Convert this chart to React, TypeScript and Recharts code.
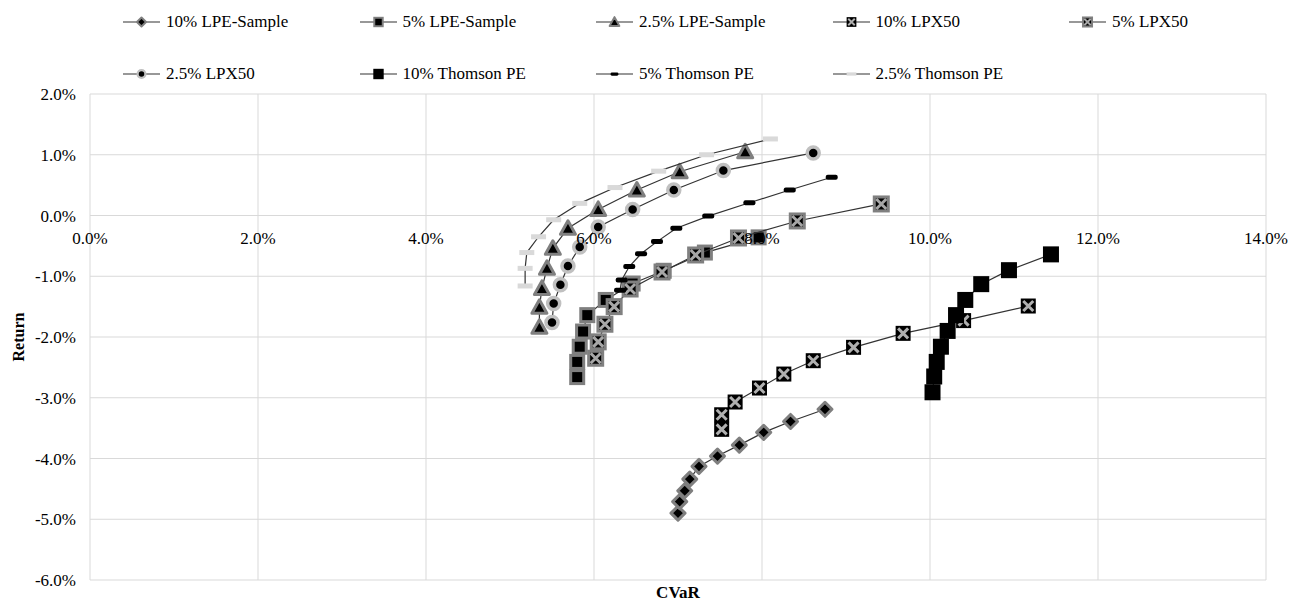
import React from 'react'
import { ScatterChart, Scatter, XAxis, YAxis, CartesianGrid } from 'recharts'

// CVaR (%) and return (%) per frontier
const cvar10Lpe = [7.0, 7.02, 7.08, 7.14, 7.25, 7.47, 7.73, 8.02, 8.34, 8.75]
const ret10Lpe = [-4.9, -4.71, -4.53, -4.34, -4.13, -3.96, -3.78, -3.57, -3.39, -3.19]

const cvar5Lpe = [5.8, 5.8, 5.83, 5.87, 5.92, 6.14, 6.46, 6.83, 7.32, 7.96]
const ret5Lpe = [-2.66, -2.41, -2.16, -1.91, -1.64, -1.39, -1.12, -0.91, -0.61, -0.36]

const cvar25Lpe = [5.35, 5.35, 5.38, 5.44, 5.51, 5.69, 6.05, 6.51, 7.02, 7.8]
const ret25Lpe = [-1.84, -1.51, -1.2, -0.87, -0.54, -0.21, 0.1, 0.42, 0.72, 1.05]

const cvar10Lpx = [7.52, 7.52, 7.68, 7.97, 8.26, 8.61, 9.09, 9.68, 10.4, 11.17]
const ret10Lpx = [-3.52, -3.28, -3.07, -2.84, -2.61, -2.39, -2.17, -1.94, -1.73, -1.49]

const cvar5Lpx = [6.02, 6.05, 6.13, 6.24, 6.43, 6.81, 7.21, 7.72, 8.42, 9.42]
const ret5Lpx = [-2.35, -2.08, -1.79, -1.5, -1.21, -0.93, -0.65, -0.37, -0.09, 0.19]

const cvar25Lpx = [5.5, 5.52, 5.6, 5.69, 5.83, 6.05, 6.46, 6.95, 7.54, 8.61]
const ret25Lpx = [-1.76, -1.45, -1.14, -0.83, -0.52, -0.19, 0.1, 0.42, 0.74, 1.03]

const cvar10Tpe = [10.03, 10.05, 10.08, 10.13, 10.21, 10.31, 10.42, 10.61, 10.94, 11.44]
const ret10Tpe = [-2.91, -2.65, -2.41, -2.16, -1.9, -1.64, -1.39, -1.13, -0.9, -0.64]

const cvar5Tpe = [6.31, 6.33, 6.42, 6.56, 6.75, 6.98, 7.36, 7.85, 8.33, 8.83]
const ret5Tpe = [-1.23, -1.06, -0.84, -0.63, -0.43, -0.21, -0.01, 0.21, 0.42, 0.63]

const cvar25Tpe = [5.18, 5.18, 5.2, 5.34, 5.52, 5.83, 6.25, 6.77, 7.34, 8.1]
const ret25Tpe = [-1.16, -0.87, -0.61, -0.35, -0.07, 0.2, 0.46, 0.73, 1.0, 1.26]

const xTicks = [0, 2, 4, 6, 8, 10, 12, 14]
const yTicks = [-6, -5, -4, -3, -2, -1, 0, 1, 2]

const zip = (xs: number[], ys: number[]) => xs.map((x, i) => ({ x, y: ys[i] }))

const series = [
  { name: '10% LPE-Sample', kind: 'diamond', data: zip(cvar10Lpe, ret10Lpe) },
  { name: '5% LPE-Sample', kind: 'square', data: zip(cvar5Lpe, ret5Lpe) },
  { name: '2.5% LPE-Sample', kind: 'triangle', data: zip(cvar25Lpe, ret25Lpe) },
  { name: '10% LPX50', kind: 'xBlack', data: zip(cvar10Lpx, ret10Lpx) },
  { name: '5% LPX50', kind: 'xGray', data: zip(cvar5Lpx, ret5Lpx) },
  { name: '2.5% LPX50', kind: 'circle', data: zip(cvar25Lpx, ret25Lpx) },
  { name: '10% Thomson PE', kind: 'bigSquare', data: zip(cvar10Tpe, ret10Tpe) },
  { name: '5% Thomson PE', kind: 'dashBlack', data: zip(cvar5Tpe, ret5Tpe) },
  { name: '2.5% Thomson PE', kind: 'dashGray', data: zip(cvar25Tpe, ret25Tpe) },
]

const W = 1297
const H = 603
const TOP = 94
const BOTTOM = 580
const FONT = "'Liberation Serif', 'Times New Roman', serif"
const LINE = '#333'
const ZERO_Y = TOP + ((BOTTOM - TOP) * 2) / 8

function marker(kind: string, cx: number, cy: number, s = 1) {
  const h = (n: number) => n * s
  switch (kind) {
    case 'diamond':
      return (
        <polygon
          points={`${cx},${cy - h(7)} ${cx + h(7)},${cy} ${cx},${cy + h(7)} ${cx - h(7)},${cy}`}
          fill="#000" stroke="#7f7f7f" strokeWidth={h(3)} strokeLinejoin="round"
        />
      )
    case 'square':
      return <rect x={cx - h(6.5)} y={cy - h(6.5)} width={h(13)} height={h(13)} fill="#000" stroke="#7f7f7f" strokeWidth={h(3)} />
    case 'triangle':
      return (
        <polygon
          points={`${cx},${cy - h(7.5)} ${cx + h(7.5)},${cy + h(6)} ${cx - h(7.5)},${cy + h(6)}`}
          fill="#000" stroke="#7f7f7f" strokeWidth={h(3)} strokeLinejoin="round"
        />
      )
    case 'xBlack':
      return (
        <g>
          <rect x={cx - h(7.5)} y={cy - h(7.5)} width={h(15)} height={h(15)} fill="#000" />
          <path d={`M${cx - h(5)},${cy - h(5)}L${cx + h(5)},${cy + h(5)}M${cx + h(5)},${cy - h(5)}L${cx - h(5)},${cy + h(5)}`} stroke="#b0b0b0" strokeWidth={h(3)} />
        </g>
      )
    case 'xGray':
      return (
        <g>
          <rect x={cx - h(7)} y={cy - h(7)} width={h(14)} height={h(14)} fill="#000" stroke="#808080" strokeWidth={h(3)} />
          <path d={`M${cx - h(5)},${cy - h(5)}L${cx + h(5)},${cy + h(5)}M${cx + h(5)},${cy - h(5)}L${cx - h(5)},${cy + h(5)}`} stroke="#a6a6a6" strokeWidth={h(3)} />
        </g>
      )
    case 'circle':
      return <circle cx={cx} cy={cy} r={h(6)} fill="#000" stroke="#c0c0c0" strokeWidth={h(3.5)} />
    case 'bigSquare':
      return <rect x={cx - h(8)} y={cy - h(8)} width={h(16)} height={h(16)} fill="#000" />
    case 'dashBlack':
      return <rect x={cx - h(6)} y={cy - h(2.5)} width={h(12)} height={h(5)} rx={h(2)} fill="#000" />
    case 'dashGray':
      return <rect x={cx - h(7.5)} y={cy - h(2.5)} width={h(15)} height={h(5)} fill="#d9d9d9" />
    default:
      return <g />
  }
}

const XTick = (props: any) => {
  const { x, payload } = props
  return (
    <text x={x} y={ZERO_Y + 28} textAnchor="middle" fontFamily={FONT} fontSize={17} fill="#000">
      {`${payload.value.toFixed(1)}%`}
    </text>
  )
}

function Legend() {
  return (
    <div style={{ position: 'absolute', left: 0, top: 0, width: W, height: 100, pointerEvents: 'none' }}>
      {series.map((s, i) => {
        const col = i % 5
        const row = Math.floor(i / 5)
        return (
          <div
            key={s.name}
            style={{
              position: 'absolute',
              left: 123 + col * 236.5,
              top: row === 0 ? 12 : 64,
              display: 'flex',
              alignItems: 'center',
              height: 20,
              fontFamily: FONT,
              fontSize: 17,
              color: '#000',
              whiteSpace: 'nowrap',
            }}
          >
            <svg width={40} height={20} style={{ display: 'block' }}>
              <line x1={0} x2={37} y1={10} y2={10} stroke={LINE} strokeWidth={1.2} />
              {marker(s.kind, 18.5, 10, 0.65)}
            </svg>
            <span style={{ marginLeft: 3 }}>{s.name}</span>
          </div>
        )
      })}
    </div>
  )
}

export default function App() {
  return (
    <div style={{ position: 'absolute', left: 0, top: 0, width: W, height: H, background: '#fff' }}>
      <ScatterChart width={W} height={H} margin={{ top: TOP, right: 31, bottom: H - BOTTOM - 1, left: 0 }}>
        <CartesianGrid stroke="#d9d9d9" strokeWidth={1} />
        <XAxis
          type="number"
          dataKey="x"
          domain={[0, 14]}
          ticks={xTicks}
          axisLine={false}
          tickLine={false}
          height={1}
          tick={<XTick />}
          label={() => (
            <text x={678} y={BOTTOM + 18} textAnchor="middle" fontFamily={FONT} fontSize={17} fontWeight="bold" fill="#000">
              CVaR
            </text>
          )}
        />
        <YAxis
          type="number"
          dataKey="y"
          domain={[-6, 2]}
          ticks={yTicks}
          width={90}
          axisLine={false}
          tickLine={false}
          tickSize={0}
          tickMargin={14}
          tickFormatter={(v: number) => `${v.toFixed(1)}%`}
          tick={{ fontFamily: FONT, fontSize: 17, fill: '#000' }}
          label={() => (
            <text
              x={18}
              y={(TOP + BOTTOM) / 2}
              transform={`rotate(-90, 18, ${(TOP + BOTTOM) / 2})`}
              textAnchor="middle"
              dominantBaseline="central"
              fontFamily={FONT}
              fontSize={16}
              fontWeight="bold"
              fill="#000"
            >
              Return
            </text>
          )}
        />
        {series.map((s) => (
          <Scatter
            key={s.name}
            name={s.name}
            data={s.data}
            line={{ stroke: LINE, strokeWidth: 1.2 }}
            shape={(p: any) => marker(s.kind, p.cx, p.cy)}
            isAnimationActive={false}
          />
        ))}
      </ScatterChart>
      <Legend />
    </div>
  )
}
